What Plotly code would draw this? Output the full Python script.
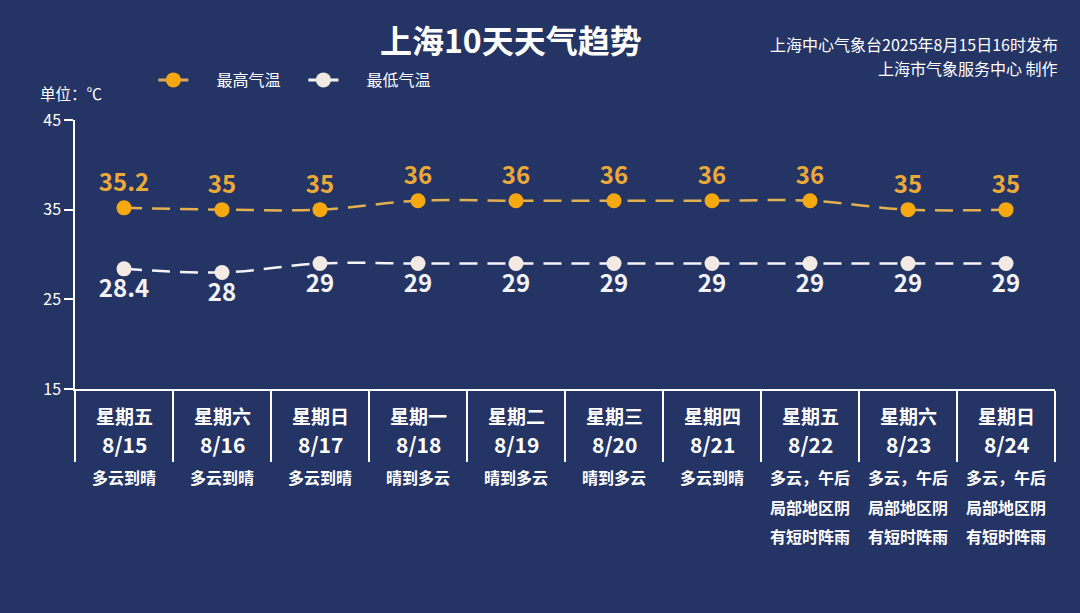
import plotly.graph_objects as go

# 上海10天天气趋势 data
dates = ["8/15", "8/16", "8/17", "8/18", "8/19", "8/20", "8/21", "8/22", "8/23", "8/24"]
weekdays = ["星期五", "星期六", "星期日", "星期一", "星期二", "星期三", "星期四", "星期五", "星期六", "星期日"]
high_temps = [35.2, 35, 35, 36, 36, 36, 36, 36, 35, 35]
low_temps = [28.4, 28, 29, 29, 29, 29, 29, 29, 29, 29]
weather = [
    ["多云到晴"],
    ["多云到晴"],
    ["多云到晴"],
    ["晴到多云"],
    ["晴到多云"],
    ["晴到多云"],
    ["多云到晴"],
    ["多云，午后", "局部地区阴", "有短时阵雨"],
    ["多云，午后", "局部地区阴", "有短时阵雨"],
    ["多云，午后", "局部地区阴", "有短时阵雨"],
]

BG = "#243465"
FONT = "Noto Sans CJK SC"
ORANGE = "#F5A80F"
WHITE = "#F4F4F8"

# plot area in pixels (for placing the text under the axis)
TOP, BOTTOM = 120, 389


def py(pix):
    return (BOTTOM - pix) / (BOTTOM - TOP)


pad = "\u3000\u00a0\u00a0"  # gap between legend symbol and text

fig = go.Figure()

fig.add_trace(go.Scatter(
    x=dates, y=high_temps, name="最高气温", legendgroup="high", showlegend=False,
    mode="lines+markers+text",
    line=dict(color="#E3B04E", width=2.5, dash="18px,10px", shape="spline"),
    marker=dict(color=ORANGE, size=15),
    text=[f"{v:g}" for v in high_temps],
    textposition="top center",
    textfont=dict(color="#EBA93A", size=24, family=FONT, weight="bold"),
))

fig.add_trace(go.Scatter(
    x=dates, y=low_temps, name="最低气温", legendgroup="low", showlegend=False,
    mode="lines+markers+text",
    line=dict(color=WHITE, width=2.5, dash="18px,10px", shape="spline"),
    marker=dict(color="#F3EAE4", size=15),
    text=[f"{v:g}" for v in low_temps],
    textposition="bottom center",
    textfont=dict(color=WHITE, size=24, family=FONT, weight="bold"),
))

# legend entries with solid line symbols
fig.add_trace(go.Scatter(x=[None], y=[None], name=pad + "最高气温", legendgroup="high",
                         mode="lines+markers", line=dict(color="#D9AA5C", width=3),
                         marker=dict(color=ORANGE, size=15)))
fig.add_trace(go.Scatter(x=[None], y=[None], name=pad + "最低气温", legendgroup="low",
                         mode="lines+markers", line=dict(color=WHITE, width=3),
                         marker=dict(color="#F3EAE4", size=15)))

# category text under the x axis
for i, d in enumerate(dates):
    fig.add_annotation(x=d, y=py(415), xref="x", yref="paper", text=f"<b>{weekdays[i]}</b>",
                       yanchor="middle", showarrow=False, font=dict(color="white", size=19, family=FONT))
    fig.add_annotation(x=d, y=py(444), xref="x", yref="paper", text=f"<b>{d}</b>",
                       yanchor="middle", showarrow=False, font=dict(color="white", size=21, family=FONT))
    for k, line in enumerate(weather[i]):
        fig.add_annotation(x=d, y=py(477 + 29.5 * k), xref="x", yref="paper", text=f"<b>{line}</b>",
                           yanchor="middle", showarrow=False, font=dict(color="white", size=16, family=FONT))

fig.add_annotation(x=-0.038, y=py(93), xref="paper", yref="paper", text="单位：℃",
                   xanchor="left", yanchor="middle", showarrow=False,
                   font=dict(color="white", size=15.5, family=FONT))
fig.add_annotation(x=1.005, y=py(44), xref="paper", yref="paper",
                   text="上海中心气象台2025年8月15日16时发布",
                   xanchor="right", yanchor="middle", showarrow=False,
                   font=dict(color="white", size=16, family=FONT))
fig.add_annotation(x=1.005, y=py(68), xref="paper", yref="paper",
                   text="上海市气象服务中心 制作",
                   xanchor="right", yanchor="middle", showarrow=False,
                   font=dict(color="white", size=16, family=FONT))

fig.update_layout(
    width=1080, height=613,
    paper_bgcolor=BG, plot_bgcolor=BG,
    margin=dict(l=75, r=25, t=TOP, b=613 - BOTTOM),
    font=dict(family=FONT, color="white"),
    title=dict(text="<b>上海10天天气趋势</b>", x=0.473, xanchor="center", y=1 - 42 / 613, yanchor="middle",
               font=dict(size=32, color="white", family=FONT)),
    legend=dict(orientation="h", x=0.08, y=py(80), xanchor="left", yanchor="middle",
                font=dict(size=16, color="white", family=FONT), bgcolor="rgba(0,0,0,0)",
                entrywidth=105, entrywidthmode="pixels", itemclick=False, itemdoubleclick=False),
    showlegend=True,
)

fig.update_xaxes(
    type="category", range=[-0.5, len(dates) - 0.5], showline=True, linecolor="white", linewidth=1.5,
    ticks="outside", tickson="boundaries", ticklen=71, tickcolor="white", tickwidth=1.5,
    showticklabels=False, showgrid=False, zeroline=False,
)
fig.update_yaxes(
    range=[15, 45], tickvals=[15, 25, 35, 45], showline=True, linecolor="white", linewidth=1.5,
    ticks="outside", ticklen=9, tickcolor="white", tickwidth=1.5,
    tickfont=dict(size=16, color="white", family=FONT), showgrid=False, zeroline=False,
)

fig.write_html("out.html", config={"displayModeBar": False},
               post_script="document.body.style.margin='0';document.body.style.overflow='hidden';")
